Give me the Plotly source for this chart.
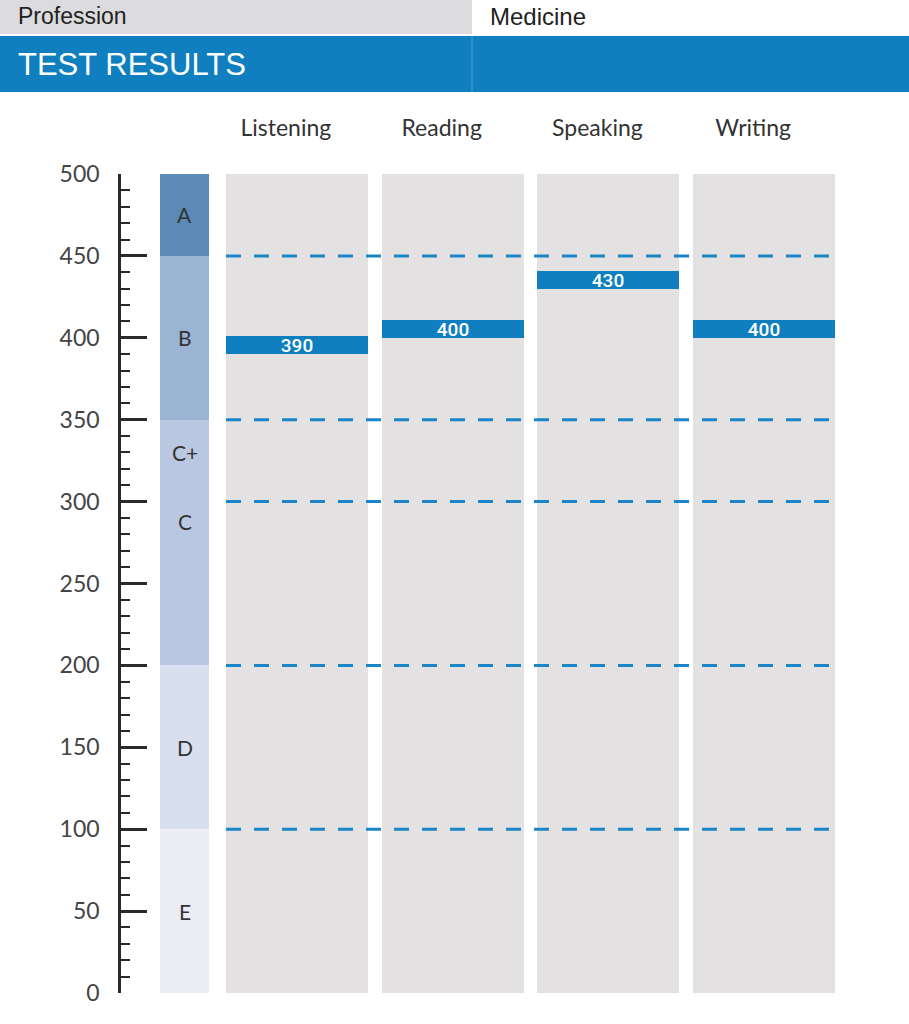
import plotly.graph_objects as go

# -------------------
# Data
# -------------------
profession = "Medicine"
subjects = ["Listening", "Reading", "Speaking", "Writing"]
scores = [390, 400, 430, 400]

grade_lo = [0, 100, 200, 350, 450]
grade_hi = [100, 200, 350, 450, 500]
grade_colors = ["#ecedf4", "#d8dfee", "#b9c8e0", "#9cb4d4", "#5a8ab5"]

grade_letters = ["E", "D", "C", "C+", "B", "A"]
grade_letter_y = [50, 150, 288, 330, 400, 475]

cut_scores = [450, 350, 300, 200, 100]

# -------------------
# Styling
# -------------------
W, H = 909, 1024
BLUE = "#0f7fc0"
DASH_BLUE = "#1a86c8"
COL_GRAY = "#e3e1e2"
TXT = "#333333"
FONT = "Lato, Open Sans, sans-serif"
HEAD_FONT = "Liberation Sans, Arial, sans-serif"
BAR_THICK = 11


def px_x(p):
    return p / W


def px_y(p):
    return 1 - p / H


fig = go.Figure()

# Gray subject columns
fig.add_trace(go.Bar(
    x=subjects, y=[500] * len(subjects), base=0,
    width=0.911, marker=dict(color=COL_GRAY, line_width=0),
    hoverinfo="skip", showlegend=False,
))

# Grade band column
for lo, hi, c in zip(grade_lo, grade_hi, grade_colors):
    fig.add_trace(go.Bar(
        x=[0], y=[hi - lo], base=lo, xaxis="x2", yaxis="y",
        width=1, marker=dict(color=c, line_width=0),
        hoverinfo="skip", showlegend=False,
    ))

# Score bars
fig.add_trace(go.Bar(
    x=subjects, y=[BAR_THICK] * len(scores), base=scores,
    width=0.911, marker=dict(color=BLUE, line_width=0),
    text=[str(s) for s in scores], textposition="inside",
    insidetextanchor="middle", constraintext="none",
    textfont=dict(color="white", size=19, weight=500,
                  family="Roboto, sans-serif"),
    hoverinfo="skip", showlegend=False,
))

# Cut-score dashed lines
for cs in cut_scores:
    fig.add_shape(
        type="line", xref="x", yref="y",
        x0=-0.455, x1=3.455, y0=cs, y1=cs,
        line=dict(color=DASH_BLUE, width=3, dash="15px,13px"),
        layer="above",
    )

# Grade letters
for g, gy in zip(grade_letters, grade_letter_y):
    fig.add_annotation(
        x=0, y=gy, xref="x2", yref="y", text=g, showarrow=False,
        xanchor="center", yanchor="middle",
        font=dict(size=21, color=TXT, family=FONT),
    )

# Header
fig.add_shape(type="rect", xref="paper", yref="paper",
              x0=0, x1=px_x(472), y0=px_y(34), y1=1,
              fillcolor="#dcdcde", line_width=0, layer="below")
fig.add_shape(type="rect", xref="paper", yref="paper",
              x0=0, x1=1, y0=px_y(92), y1=px_y(36),
              fillcolor=BLUE, line_width=0, layer="below")
fig.add_shape(type="line", xref="paper", yref="paper",
              x0=px_x(472), x1=px_x(472), y0=px_y(92), y1=px_y(36),
              line=dict(color="#4aa0d4", width=1))
fig.add_annotation(x=px_x(16), y=px_y(16), xref="paper", yref="paper",
                   text="Profession", showarrow=False,
                   xanchor="left", yanchor="middle",
                   font=dict(size=23, color="#222", family=HEAD_FONT))
fig.add_annotation(x=px_x(488), y=px_y(16), xref="paper", yref="paper",
                   text=profession, showarrow=False,
                   xanchor="left", yanchor="middle",
                   font=dict(size=24, color="#222", family=HEAD_FONT))
fig.add_annotation(x=px_x(16), y=px_y(64), xref="paper", yref="paper",
                   text="TEST RESULTS", showarrow=False,
                   xanchor="left", yanchor="middle",
                   font=dict(size=31, color="white", family=HEAD_FONT))

fig.update_layout(
    width=W, height=H,
    margin=dict(l=0, r=0, t=0, b=0, pad=0),
    paper_bgcolor="white", plot_bgcolor="white",
    barmode="overlay", bargap=0,
    font=dict(family=FONT, color=TXT),
    xaxis=dict(
        domain=[px_x(219), px_x(842)], range=[-0.5, 3.5],
        type="category", side="top", anchor="y", automargin=False,
        showline=False, showgrid=False, zeroline=False, ticks="",
        tickfont=dict(size=23, color=TXT, family=FONT),
        ticklabelstandoff=32, ticklabelshift=-11,
    ),
    xaxis2=dict(
        domain=[px_x(160), px_x(209)], range=[-0.5, 0.5], anchor="y",
        automargin=False,
        showline=False, showgrid=False, zeroline=False,
        showticklabels=False, ticks="",
    ),
    yaxis=dict(
        domain=[px_y(993), px_y(174)], range=[0, 500],
        anchor="free", position=px_x(119), side="left", automargin=False,
        showgrid=False, zeroline=False,
        showline=True, linecolor="#2a2a2a", linewidth=2.5,
        tickmode="linear", tick0=0, dtick=50,
        ticks="inside", ticklen=26, tickwidth=2.5, tickcolor="#2a2a2a",
        minor=dict(dtick=10, ticks="inside", ticklen=9, tickwidth=2, tickcolor="#2a2a2a"),
        tickfont=dict(size=23, color="#444", family=FONT),
        ticklabelstandoff=14,
    ),
)

fig.write_html(
    "out.html",
    config={"displayModeBar": False},
    post_script="document.body.style.margin='0';document.body.style.overflow='hidden';",
)
